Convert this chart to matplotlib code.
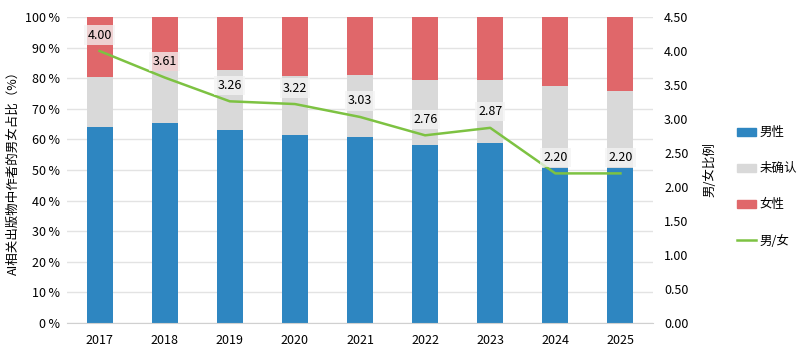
import numpy as np
import matplotlib.pyplot as plt
from matplotlib.patches import Patch
from matplotlib.lines import Line2D

plt.rcParams['font.family'] = ['Noto Sans CJK SC', 'DejaVu Sans']

years = ['2017', '2018', '2019', '2020', '2021', '2022', '2023', '2024', '2025']
male = [64.0, 65.4, 63.1, 61.4, 60.8, 58.2, 58.8, 50.7, 50.7]
unknown = [16.4, 16.8, 19.6, 19.3, 20.2, 21.2, 20.6, 26.8, 25.2]
female = [19.6, 17.8, 17.3, 19.3, 19.0, 20.6, 20.6, 22.5, 24.1]
ratio = [4.00, 3.61, 3.26, 3.22, 3.03, 2.76, 2.87, 2.20, 2.20]

c_male = '#2E86C1'
c_unknown = '#D9D9D9'
c_female = '#E0676A'
c_line = '#7DC242'

fig = plt.figure(figsize=(7.98, 3.63), dpi=100)
ax = fig.add_axes([67 / 798, 40 / 363, 586 / 798, 306 / 363])
ax2 = ax.twinx()

x = np.arange(len(years))
w = 0.4
ax.bar(x, male, w, color=c_male, zorder=2)
ax.bar(x, unknown, w, bottom=male, color=c_unknown, zorder=2)
bottom2 = np.array(male) + np.array(unknown)
ax.bar(x, female, w, bottom=bottom2, color=c_female, zorder=2)

ax.set_xlim(-0.5, len(years) - 0.5)
ax.set_ylim(0, 100)
ax.set_yticks(np.arange(0, 101, 10))
ax.set_yticklabels([f'{v}\u2009%' for v in range(0, 101, 10)])
ax.set_xticks(x)
ax.set_xticklabels(years)
ax.grid(axis='y', color='#E3E3E3', linewidth=1, zorder=0)
ax.set_axisbelow(True)
for s in ['top', 'right', 'left']:
    ax.spines[s].set_visible(False)
ax.spines['bottom'].set_color('#D0D0D0')
ax.tick_params(axis='both', length=0, labelsize=9, colors='black')
ax.tick_params(axis='x', pad=8)
ax.tick_params(axis='y', pad=5)
ax.set_ylabel('AI相关出版物中作者的男女占比（%）', fontsize=9, labelpad=4)

ax2.plot(x, ratio, color=c_line, linewidth=1.8, zorder=3)
ax2.set_ylim(0, 4.5)
ax2.set_yticks(np.arange(0, 4.51, 0.5))
ax2.set_yticklabels([f'{v:.2f}' for v in np.arange(0, 4.51, 0.5)])
for s in ['top', 'right', 'left', 'bottom']:
    ax2.spines[s].set_visible(False)
ax2.tick_params(axis='y', length=0, labelsize=9, pad=8)
ax2.set_ylabel('男/女比例', fontsize=9, rotation=90, labelpad=11)

for xi, v in zip(x, ratio):
    ax2.annotate(f'{v:.2f}', (xi, v), xytext=(0, 11.5), textcoords='offset points',
                 ha='center', va='center', fontsize=9, zorder=5,
                 bbox=dict(boxstyle='square,pad=0.25', facecolor='#F4F4F4',
                           edgecolor='none', alpha=0.75))

handles = [Patch(color=c_male, label='男性'),
           Patch(color=c_unknown, label='未确认'),
           Patch(color=c_female, label='女性'),
           Line2D([0], [0], color=c_line, linewidth=1.8, label='男/女')]
fig.legend(handles=handles, loc='center left', bbox_to_anchor=(726 / 798, 0.485),
           frameon=False, fontsize=9, labelspacing=1.85, handlelength=1.5,
           handleheight=0.6, handletextpad=0.3)

fig.savefig('out.png', dpi=100)
